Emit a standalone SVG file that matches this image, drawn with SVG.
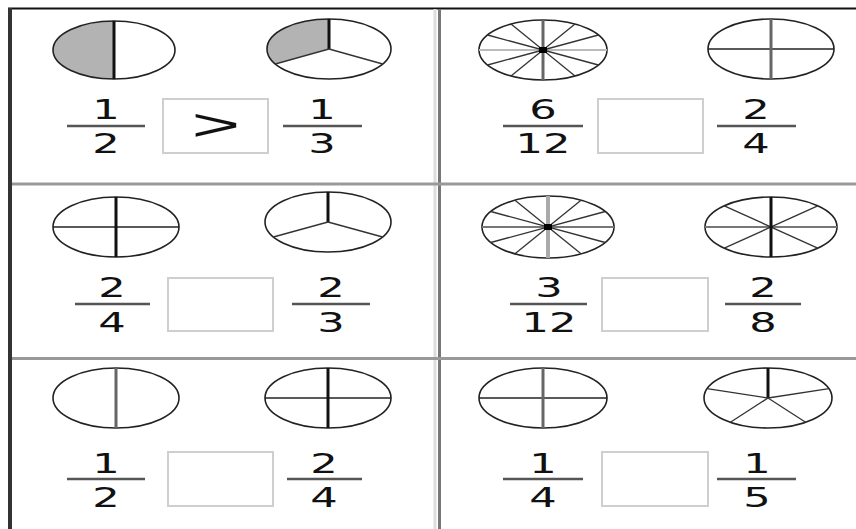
<svg xmlns="http://www.w3.org/2000/svg" width="856" height="529" viewBox="0 0 856 529">
<style>
.bg{fill:#ffffff}
.ell{fill:none;stroke:#222;stroke-width:1.6}
.sp{stroke:#333;stroke-width:1.3}
.vk{stroke:#111;stroke-width:3}
.vg{stroke:#666;stroke-width:3}
.vl{stroke:#aaa;stroke-width:4}
.hk{stroke:#222;stroke-width:1.6}
.hl{stroke:#bbb;stroke-width:2}
.hg{stroke:#777;stroke-width:2}
.fill{fill:#b3b3b3;stroke:none}
.bar{stroke:#555;stroke-width:2.5}
.box{fill:#fff;stroke:#cfcfcf;stroke-width:2}
.num{font-family:"DejaVu Sans",sans-serif;font-size:27px;fill:#111;text-anchor:middle}
.sym{font-family:"Liberation Sans",sans-serif;font-size:44px;fill:#111;text-anchor:middle}
</style>
<rect class="bg" x="0" y="0" width="856" height="529"/>
<g id="grid">
<line x1="8" y1="8.5" x2="856" y2="8.5" stroke="#111" stroke-width="2"/>
<line x1="10" y1="8" x2="10" y2="529" stroke="#333" stroke-width="4"/>
<line x1="435" y1="9" x2="435" y2="529" stroke="#ddd" stroke-width="3"/>
<line x1="439.5" y1="9" x2="439.5" y2="529" stroke="#777" stroke-width="3"/>
<line x1="12" y1="184" x2="856" y2="184" stroke="#999" stroke-width="3"/>
<line x1="12" y1="358.5" x2="856" y2="358.5" stroke="#999" stroke-width="3"/>
</g>
<g id="cell-1">
<path class="fill" d="M114,21 A61 29 0 0 0 114,79 Z"/>
<ellipse class="ell" cx="114" cy="50" rx="61" ry="29"/>
<line class="vk" x1="114" y1="21" x2="114" y2="79" stroke="#333"/>
<path class="fill" d="M329,49 L329,19 A62 30 0 0 0 275.3,64 Z"/>
<ellipse class="ell" cx="329" cy="49" rx="62" ry="30"/>
<line class="vk" x1="329" y1="19" x2="329" y2="49"/>
<line class="sp" x1="329" y1="49" x2="275.3" y2="64"/>
<line class="sp" x1="329" y1="49" x2="382.7" y2="64"/>
<text class="num" transform="translate(106,119) scale(1.6,1)">1</text>
<line class="bar" x1="67" y1="126" x2="145" y2="126"/>
<text class="num" transform="translate(106,153) scale(1.6,1)">2</text>
<rect class="box" x="163" y="99" width="105" height="54"/>
<text class="sym" transform="translate(216,140) scale(1.9,1)">&gt;</text>
<text class="num" transform="translate(322,119) scale(1.6,1)">1</text>
<line class="bar" x1="283" y1="126" x2="362" y2="126"/>
<text class="num" transform="translate(322,153) scale(1.6,1)">3</text>
</g>
<g id="cell-2">
<ellipse class="ell" cx="543" cy="50" rx="64" ry="30"/>
<line class="hl" x1="479" y1="50" x2="607" y2="50"/>
<line class="sp" x1="598.4" y1="35" x2="487.6" y2="65"/>
<line class="sp" x1="575" y1="24" x2="511" y2="76"/>
<line class="sp" x1="511" y1="24" x2="575" y2="76"/>
<line class="sp" x1="487.6" y1="35" x2="598.4" y2="65"/>
<line class="vg" x1="543" y1="20" x2="543" y2="80" stroke="#555"/>
<rect x="539" y="47" width="8" height="6" fill="#000"/>
<ellipse class="ell" cx="771" cy="49" rx="63" ry="30"/>
<line class="hk" x1="708" y1="49" x2="834" y2="49"/>
<line class="vg" x1="771" y1="19" x2="771" y2="79"/>
<text class="num" transform="translate(543,119) scale(1.6,1)">6</text>
<line class="bar" x1="503" y1="126" x2="583" y2="126"/>
<text class="num" transform="translate(543,153) scale(1.6,1)">12</text>
<rect class="box" x="598" y="99" width="105" height="54"/>
<text class="num" transform="translate(756,119) scale(1.6,1)">2</text>
<line class="bar" x1="717" y1="126" x2="796" y2="126"/>
<text class="num" transform="translate(756,153) scale(1.6,1)">4</text>
</g>
<g id="cell-3">
<ellipse class="ell" cx="116" cy="227" rx="63" ry="30"/>
<line class="hk" x1="53" y1="227" x2="179" y2="227"/>
<line class="vk" x1="116" y1="197" x2="116" y2="257"/>
<ellipse class="ell" cx="328" cy="222" rx="63" ry="30"/>
<line class="vk" x1="328" y1="192" x2="328" y2="222"/>
<line class="sp" x1="328" y1="222" x2="273.4" y2="237"/>
<line class="sp" x1="328" y1="222" x2="382.6" y2="237"/>
<text class="num" transform="translate(112,297) scale(1.6,1)">2</text>
<line class="bar" x1="75" y1="304" x2="150" y2="304"/>
<text class="num" transform="translate(112,332) scale(1.6,1)">4</text>
<rect class="box" x="168" y="278" width="105" height="53"/>
<text class="num" transform="translate(331,297) scale(1.6,1)">2</text>
<line class="bar" x1="292" y1="304" x2="370" y2="304"/>
<text class="num" transform="translate(331,332) scale(1.6,1)">3</text>
</g>
<g id="cell-4">
<ellipse class="ell" cx="548" cy="227" rx="66" ry="31"/>
<line class="hg" x1="482" y1="227" x2="614" y2="227"/>
<line class="sp" x1="605.2" y1="211.5" x2="490.8" y2="242.5"/>
<line class="sp" x1="581" y1="200.2" x2="515" y2="253.8"/>
<line class="sp" x1="515" y1="200.2" x2="581" y2="253.8"/>
<line class="sp" x1="490.8" y1="211.5" x2="605.2" y2="242.5"/>
<line class="vl" x1="548" y1="196" x2="548" y2="258"/>
<rect x="544" y="224" width="8" height="6" fill="#000"/>
<ellipse class="ell" cx="771" cy="227" rx="66" ry="30"/>
<line class="hg" x1="705" y1="227" x2="837" y2="227"/>
<line class="sp" x1="817.7" y1="205.8" x2="724.3" y2="248.2"/>
<line class="sp" x1="724.3" y1="205.8" x2="817.7" y2="248.2"/>
<line class="vk" x1="771" y1="197" x2="771" y2="257"/>
<text class="num" transform="translate(549,297) scale(1.6,1)">3</text>
<line class="bar" x1="510" y1="304" x2="587" y2="304"/>
<text class="num" transform="translate(549,332) scale(1.6,1)">12</text>
<rect class="box" x="602" y="278" width="106" height="53"/>
<text class="num" transform="translate(763,297) scale(1.6,1)">2</text>
<line class="bar" x1="725" y1="304" x2="801" y2="304"/>
<text class="num" transform="translate(763,332) scale(1.6,1)">8</text>
</g>
<g id="cell-5">
<ellipse class="ell" cx="116" cy="398" rx="63" ry="30"/>
<line class="vg" x1="116" y1="368" x2="116" y2="428" stroke="#777"/>
<ellipse class="ell" cx="328" cy="398" rx="63" ry="30"/>
<line class="hk" x1="265" y1="398" x2="391" y2="398"/>
<line class="vk" x1="328" y1="368" x2="328" y2="428"/>
<text class="num" transform="translate(106,473) scale(1.6,1)">1</text>
<line class="bar" x1="67" y1="479" x2="145" y2="479"/>
<text class="num" transform="translate(106,507) scale(1.6,1)">2</text>
<rect class="box" x="168" y="452" width="105" height="54"/>
<text class="num" transform="translate(324,473) scale(1.6,1)">2</text>
<line class="bar" x1="287" y1="479" x2="362" y2="479"/>
<text class="num" transform="translate(324,507) scale(1.6,1)">4</text>
</g>
<g id="cell-6">
<ellipse class="ell" cx="543" cy="398" rx="64" ry="30"/>
<line class="hk" x1="479" y1="398" x2="607" y2="398"/>
<line class="vg" x1="543" y1="368" x2="543" y2="428" stroke="#888"/>
<ellipse class="ell" cx="768" cy="398" rx="64" ry="30"/>
<line class="vk" x1="768" y1="368" x2="768" y2="398"/>
<line class="sp" x1="768" y1="398" x2="707.1" y2="388.7"/>
<line class="sp" x1="768" y1="398" x2="828.9" y2="388.7"/>
<line class="sp" x1="768" y1="398" x2="730.4" y2="422.3"/>
<line class="sp" x1="768" y1="398" x2="805.6" y2="422.3"/>
<text class="num" transform="translate(543,473) scale(1.6,1)">1</text>
<line class="bar" x1="503" y1="479" x2="583" y2="479"/>
<text class="num" transform="translate(543,507) scale(1.6,1)">4</text>
<rect class="box" x="602" y="452" width="106" height="54"/>
<text class="num" transform="translate(757,473) scale(1.6,1)">1</text>
<line class="bar" x1="717" y1="479" x2="796" y2="479"/>
<text class="num" transform="translate(757,507) scale(1.6,1)">5</text>
</g>
</svg>
